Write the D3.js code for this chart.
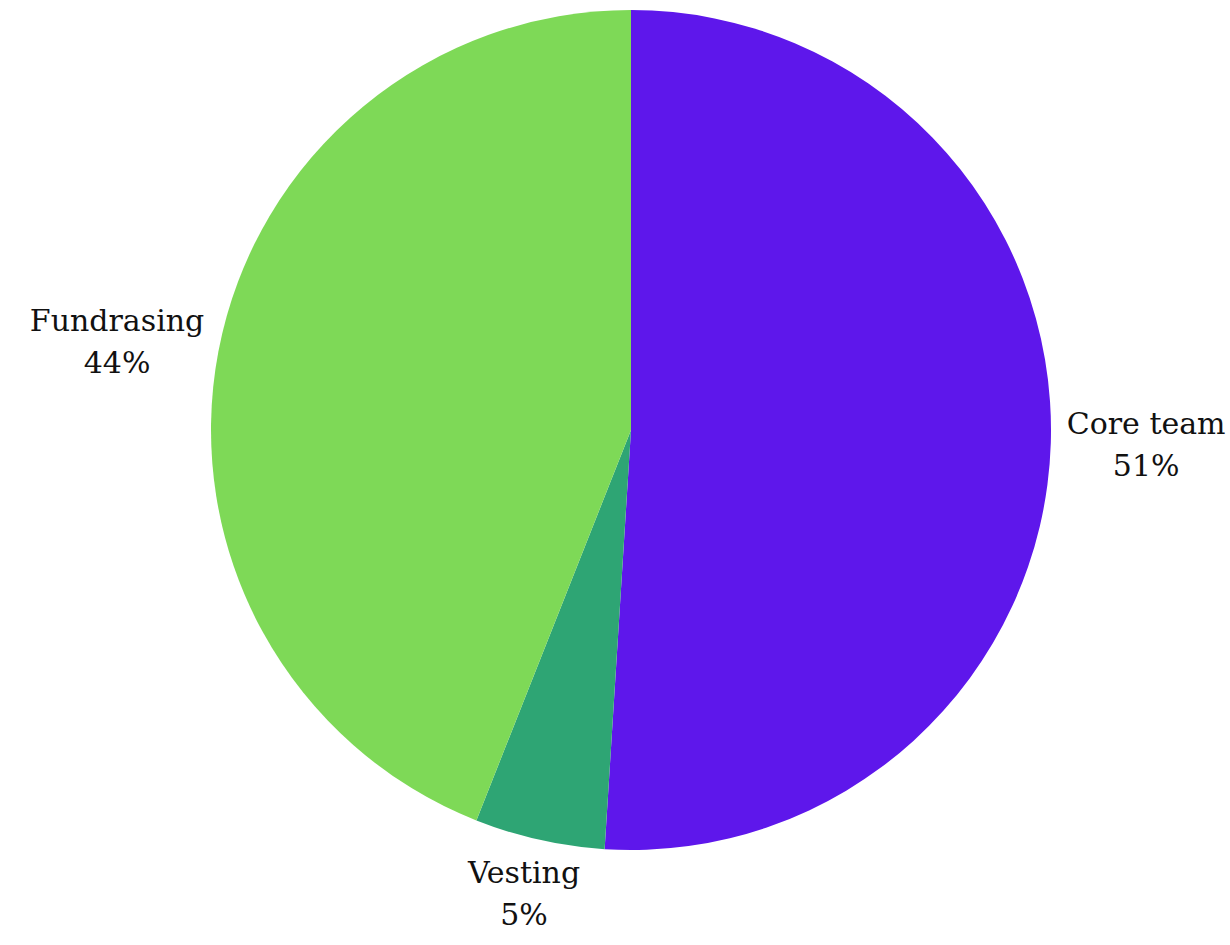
<!DOCTYPE html>
<html>
<head>
<meta charset="utf-8">
<script src="https://cdn.jsdelivr.net/npm/d3@7"></script>
<style>
	body { margin: 0; background: #fff; }
	svg { display: block; }
</style>
</head>
<body>
<svg class="chart" width="1230" height="945"></svg>
<script>
/** DATA **/
let labels = ['Core team', 'Vesting', 'Fundrasing'];
let values = [51, 5, 44];
let colors = ['#5e17eb', '#2ea574', '#7ed957'];

/** CONSTANTS **/
let constant = {
	width: 1230,
	height: 945,
	cx: 631,
	cy: 430,
	radius: 420,
	labelOffset: 16
};

let svg = d3.select('.chart');
let g = svg.append('g').attr('transform', 'translate(' + constant.cx + ',' + constant.cy + ')');

let pie = d3.pie().sort(null).value(function(d) { return d; });
let arc = d3.arc().innerRadius(0).outerRadius(constant.radius);
let arcs = pie(values);

// slices
g.selectAll('.slice')
	.data(arcs)
	.enter()
	.append('path')
	.attr('class', 'slice')
	.attr('d', arc)
	.style('fill', function(d, i) { return colors[i]; });

// labels, placed outside along the mid angle
let total = d3.sum(values);
let label = g.selectAll('.label')
	.data(arcs)
	.enter()
	.append('text')
	.attr('class', 'label')
	.attr('text-anchor', 'middle')
	.style('font', '30px "Roboto Slab", "DejaVu Serif", serif')
	.style('fill', '#111');

label.append('tspan')
	.attr('x', 0)
	.attr('dy', 0)
	.text(function(d, i) { return labels[i]; });
label.append('tspan')
	.attr('x', 0)
	.attr('dy', '1.4em')
	.text(function(d) { return Math.round(d.value / total * 100) + '%'; });

label.each(function(d) {
	let t = d3.select(this);
	let box = this.getBBox();
	let mid = (d.startAngle + d.endAngle) / 2;
	let ux = Math.sin(mid), uy = -Math.cos(mid);
	let r = constant.radius + constant.labelOffset;
	let cx = ux * r + ux * box.width / 2;
	let cy = uy * r + uy * box.height / 2;
	// shift so the box centre lands on (cx, cy)
	let dx = cx - (box.x + box.width / 2);
	let dy = cy - (box.y + box.height / 2);
	t.attr('transform', 'translate(' + dx + ',' + dy + ')');
});
</script>
</body>
</html>
